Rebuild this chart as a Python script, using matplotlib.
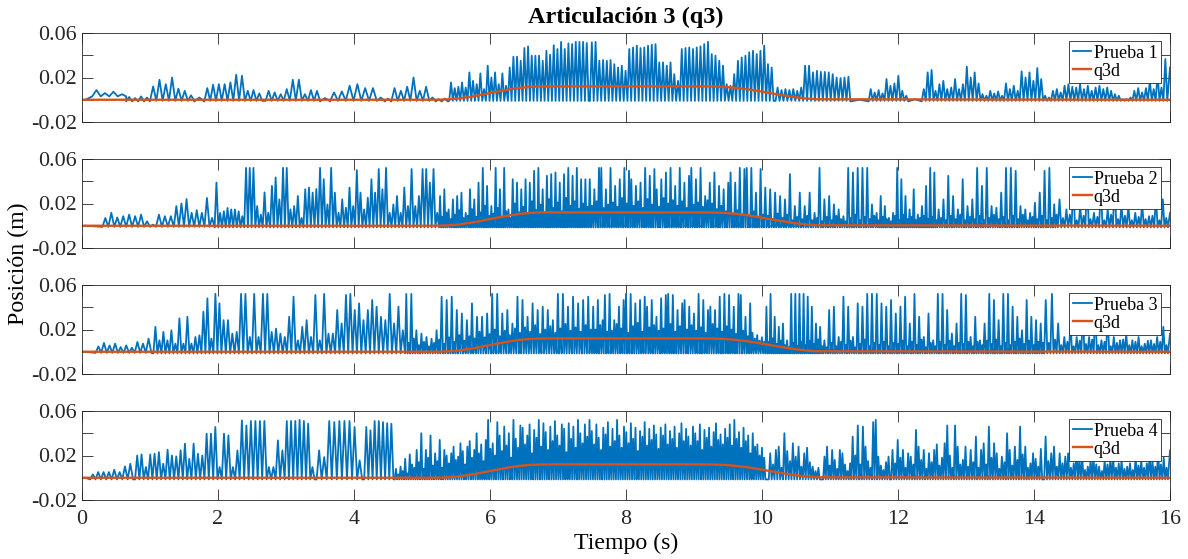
import numpy as np
import matplotlib
matplotlib.use("Agg")
import matplotlib.pyplot as plt

# ---------------------------------------------------------------------------
# Data (positions in mm, time in s).  Each segment: (t_start, t_end, base, peaks)
# The trace alternates base -> peak -> base ... evenly across the segment.
# ---------------------------------------------------------------------------
T_MAX = 16.0

P1_SEGMENTS = [
    (0.15, 0.65, 3.0, [8.7, 6.0, 7.2, 5.0]),
    (0.65, 1.00, -1.5, [2.5, 1.5, 3.0, 2.0]),
    (1.00, 1.65, -1.0, [12, 18, 14, 20, 10, 8, 4]),
    (1.65, 1.80, -1.5, [2]),
    (1.80, 2.65, -1.0, [10.5, 13.5, 14, 14, 15.6, 22.5, 21.6, 8, 8.7, 5.7]),
    (2.70, 3.50, -1.0, [8, 6.6, 5, 9.6, 18, 18, 5, 8.7, 8]),
    (3.50, 3.65, -1.5, [1.5]),
    (3.65, 4.45, -1.0, [6.6, 7.5, 12.6, 14, 10.5, 10.5, 2]),
    (4.45, 4.55, -1.5, [1.0]),
    (4.55, 5.20, -1.0, [10.5, 8, 11.7, 20, 8, 11.7, 2]),
    (5.20, 5.38, -1.5, [0.5, 1.0]),
    (5.40, 7.45, -1.0, [15.6, 10.5, 11.7, 15.6, 11, 24.6, 17, 14, 23.7, 9.6, 30.6, 20,
                        24.6, 14, 23.7, 12.6, 29, 38.7, 38.7, 35, 46.5, 48, 39.6, 39.6,
                        39.6, 35, 44, 40.5, 49, 45.6, 52, 45.6, 50.7, 50, 52, 52, 52, 51]),
    (7.47, 10.17, -1.0, [51.6, 52, 35, 35.7, 35, 35.7, 32, 29, 30.6, 26, 45.6, 47, 48.6,
                         46.5, 47, 48.6, 49.5, 50, 33.6, 33.6, 30.6, 33.6, 23, 17, 45.6,
                         46.5, 47, 45.6, 47, 48, 50, 52, 41, 39.6, 35, 30.6, 14, 12.6, 23,
                         35, 38, 39.6, 42.6, 44, 41, 44, 48.6, 32, 29]),
    (10.20, 11.30, -1.0, [11, 8.7, 9.6, 8.7, 9.6, 8, 11, 30.6, 30.6, 24.6, 26, 25, 25,
                          24.6, 23, 20, 19.5, 20, 20.7]),
    (11.30, 11.57, -1.5, [0.0]),
    (11.57, 12.15, -1.0, [9.6, 6.6, 8.7, 5.7, 18.6, 12.6, 14.7, 21.6, 8, 3.6]),
    (12.15, 12.35, -1.5, [0.5]),
    (12.35, 14.25, -1.0, [9.6, 24.6, 26.7, 8, 14, 17, 9.6, 11, 18.6, 9.6, 14, 29.7, 20,
                          24.6, 14.7, 5, 3.6, 8, 5.7, 7.5, 3.6, 14.7, 9.6, 12.6, 8, 25.5,
                          20, 24.6, 17, 28.5, 18.6, 3.6, 2]),
    (14.25, 15.96, -1.0, [8, 9.6, 6.6, 12.6, 14, 11.7, 11, 14, 9.6, 12.6, 8, 11, 12.6,
                          9.6, 11, 8, 5, 3.6, 0.6, 0.6, 2, 8, 10.5, 6.6, 10.5, 17, 9.6,
                          23, 11, 36.6]),
]
P1_END = 29.0

P2_SEGMENTS = [
    (0.30, 1.35, -1.0, [7, 11.6, 7.5, 8.6, 10, 8.6, 10, 4, 1, 10, 8.6, 8.6]),
    (1.35, 1.95, -1.0, [17.7, 20, 24, 11.6, 14, 11.6, 25, 7]),
    (1.95, 3.80, -1.5, [38.8, 11.6, 13, 16, 14.7, 14.7, 13, 8.6, 52, 52, 52, 17.7, 10, 30,
                        11.6, 35.8, 43.4, 23.7, 52, 52, 14.7, 17.7, 26.7, 7, 32.8, 34.3,
                        29.8, 33, 52, 41.8, 19.2, 52, 29.8, 11.6]),
    (3.80, 5.25, -1.5, [23.7, 16.2, 34.3, 17.7, 50, 29.8, 14.7, 25.2, 41.8, 29.8, 51, 32.8,
                        52, 11.6, 19.2, 26.7, 11.6, 34.3, 17.7, 51, 17.7, 26.7, 51, 51,
                        38.8, 51, 11.6]),
    (5.25, 7.45, -1.5, [26.7, 8, 32.8, 12, 14.7, 6, 23.7, 10, 26.7, 14, 29.8, 7, 11.6, 9,
                        32.8, 15, 23.7, 8, 38.8, 12, 52, 18, 35.8, 9, 17.7, 11, 52, 16,
                        32.8, 8, 52, 13, 14.7, 7, 41.8, 20, 38.8, 12, 32.8, 17, 41.8, 10,
                        38.8, 22, 49.4, 14, 52, 19, 32.8, 12, 44.9, 24, 46.4, 16, 47.9,
                        21, 38.8, 13, 46.4, 25, 52, 18, 44.9, 22, 52, 15, 41.8, 20, 41.8,
                        17]),
    (7.45, 10.03, -1.5, [41.8, 18, 32.8, 22, 52, 52, 16, 32.8, 19, 52, 21, 35.8, 17,
                         41.8, 25, 52, 20, 49.4, 41.8, 18, 35.8, 22, 38.8, 16, 52, 24,
                         44.9, 19, 51, 32.8, 17, 41.8, 25, 47.9, 20, 52, 23, 35.8, 18,
                         52, 22, 38.8, 16, 44.9, 52, 19, 41.8, 21, 52, 17, 26.7, 23,
                         38.8, 20, 47.9, 15, 35.8, 18, 32.8, 13, 38.8, 47.9, 11, 38.8,
                         14, 52, 10, 51, 52, 9, 52, 13, 29.8, 8, 51, 10]),
    (10.03, 10.90, -1.5, [34.3, 9, 32.8, 6, 29.8, 11, 26.7, 7, 23.7, 10, 46.4, 5, 17.7, 8,
                          29.8, 6, 17.7, 9, 29.8, 5, 11.6, 7, 52, 4]),
    (10.90, 11.67, -1.5, [23.7, 8, 26.7, 5, 19.2, 9, 14.7, 6, 8.6, 4, 52, 7, 47.9, 10, 52,
                          5, 52, 8, 52, 6, 19.2, 9]),
    (11.67, 12.58, -1.5, [11.6, 5, 26.7, 8, 17.7, 6, 7.1, 4, 11.6, 9, 52, 5, 41.8, 10,
                          26.7, 6, 14.7, 8, 32.8, 5, 10.1, 7, 17.7, 9, 35.8, 6, 52, 8,
                          47.9, 5]),
    (12.58, 13.50, -1.5, [14.7, 7, 23.7, 5, 44.9, 9, 26.7, 6, 14.7, 10, 41.8, 5, 17.7, 8,
                          23.7, 6, 52, 9, 35.8, 5, 52, 7, 17.7, 10, 16.2, 6]),
    (13.50, 14.35, -1.5, [29.8, 8, 52, 5, 52, 9, 49.4, 6, 17.7, 10, 14.7, 5, 11.6, 8,
                          20.7, 6, 29.8, 9, 49.4, 5, 52, 7, 19.2, 10]),
    (14.35, 15.97, -1.5, [23.7, 7, 14.7, 10, 40, 5, 17.7, 9, 45, 6, 11.6, 8, 38, 5, 14.7,
                          10, 42, 6, 19.2, 9, 17.7, 5, 11.6, 8, 20.7, 6, 8.6, 9, 26.7, 5,
                          23.7, 7]),
]
P2_END = 11.6

P3_SEGMENTS = [
    (0.20, 1.02, -1.0, [4.8, 7.9, 5.7, 7.3, 4.2, 5.7, 3.6, 8.8, 7.3, 11.8]),
    (1.05, 2.05, -1.5, [22.4, 10.3, 17.8, 10.3, 19.3, 7.3, 30, 7.3, 31.4, 7.3, 13.3, 14.8,
                        36, 48, 11.8, 52, 43.5]),
    (2.05, 4.75, -1.5, [28.4, 28.4, 16.3, 17.8, 52, 52, 13.3, 52, 13.3, 52, 52, 17.8, 20.8,
                        16.3, 13.3, 31.4, 49.5, 10.3, 22.4, 28.4, 13.3, 51, 10.3, 52,
                        16.3, 16.3, 37.5, 25.4, 51, 52, 37.5, 43.5, 28.4, 37.5, 46.5,
                        40.5, 31.4, 28.4, 52, 25.4, 40.5, 19.3]),
    (4.75, 7.50, -1.5, [52, 8, 52, 12, 19.3, 6, 16.3, 9, 13.3, 5, 11.8, 8, 19.3, 11, 49.5,
                        7, 46.5, 13, 49.5, 9, 37.5, 15, 34.4, 10, 28.4, 14, 43.5, 12,
                        31.4, 18, 31.4, 13, 34.4, 16, 52, 20, 52, 14, 34.4, 19, 37.5, 15,
                        25.4, 21, 49.5, 17, 46.5, 22, 31.4, 18, 43.5, 24, 37.5, 16, 40.5,
                        20, 37.5, 23, 28.4, 17, 52, 21, 52, 25, 40.5, 19, 49.5, 22, 43.5,
                        18, 46.5, 24, 49.5, 20]),
    (7.50, 10.05, -1.5, [40.5, 20, 46.5, 24, 28.4, 51, 18, 52, 19, 28.4, 25, 40.5, 21,
                         46.5, 52, 17, 52, 23, 43.5, 26, 46.5, 18, 49.5, 40.5, 22, 46.5,
                         24, 31.4, 19, 48, 21, 51, 52, 25, 51, 18, 37.5, 23, 43.5, 46.5,
                         20, 40.5, 24, 34.4, 19, 52, 22, 46.5, 17, 37.5, 40.5, 25, 37.5,
                         21, 49.5, 18, 52, 23, 51, 20, 40.5, 16, 52, 51, 19, 31.4, 14,
                         43.5, 17, 12, 15, 10, 13, 9]),
    (10.05, 10.90, -1.5, [40.5, 9, 52, 12, 31.4, 7, 22.4, 10, 25.4, 6, 10.3, 4, 52, 8, 52,
                          5, 52, 9, 52, 6, 49.5, 10, 40.5, 7, 25.4, 11, 22.4, 5]),
    (10.90, 11.95, -1.5, [10.3, 4, 37.5, 8, 40.5, 5, 13.3, 9, 49.5, 6, 40.5, 10, 13.3, 4,
                          43.5, 7, 40.5, 11, 52, 5, 52, 8, 52, 6, 43.5, 9, 40.5, 5, 46.5,
                          8]),
    (11.95, 13.05, -1.5, [34.4, 7, 40.5, 10, 49.5, 5, 25.4, 9, 52, 6, 31.4, 11, 13.3, 4,
                          34.4, 8, 10.3, 5, 52, 9, 52, 6, 37.5, 10, 16.3, 5, 25.4, 8, 52,
                          7, 51, 9]),
    (13.05, 14.15, -1.5, [13.3, 5, 31.4, 9, 10.3, 6, 25.4, 10, 52, 7, 46.5, 11, 28.4, 5,
                          52, 8, 52, 6, 40.5, 9, 31.4, 12, 19.3, 7, 46.5, 10, 31.4, 6,
                          28.4, 9, 25.4, 8]),
    (14.15, 15.97, -1.5, [46.5, 8, 52, 11, 25.4, 6, 13.3, 9, 28.4, 5, 13.3, 10, 40, 7,
                          13.3, 11, 45, 6, 10.3, 9, 38, 5, 13.3, 8, 10.3, 11, 16.3, 6,
                          10.3, 9, 13.3, 5, 7.3, 10, 10.3, 7, 13.3, 9, 22.4, 6]),
]
P3_END = 16.3

P4_SEGMENTS = [
    (0.12, 0.75, -1.5, [3, 5.1, 5.1, 5.1, 7.2, 5.1, 10.2, 12.6]),
    (0.78, 2.12, -1.5, [20, 21, 9.6, 21, 21.6, 23, 12.6, 25.2, 20, 19.2, 24.6, 30.6, 17,
                        30.6, 21.6, 20, 39.6, 39.6, 45.6, 9.6, 39.6]),
    (2.12, 2.98, -1.5, [38, 9.6, 24.6, 51.6, 47, 51, 51, 51, 51, 9.6, 9.6, 33.6, 24.6]),
    (2.98, 3.42, -1.5, [51, 51, 51, 52, 51, 48.6, 9.6]),
    (3.45, 4.12, -1.5, [24.6, 18.6, 51, 50, 51, 51, 51, 45.6, 15.6]),
    (4.15, 4.58, -1.5, [45.6, 42.6, 51, 51, 50, 49, 48.6]),
    (4.60, 7.48, -1.5, [8, 3, 10, 6, 17, 4, 21, 12, 9, 25, 14, 40, 8, 25, 18, 38, 11, 22,
                        15, 34, 9, 25, 20, 13, 22,
                        28, 16, 19, 31, 24, 12, 28, 33, 18, 25, 40, 22, 30, 15, 34, 52,
                        26, 31, 20, 50, 38, 24, 46, 29, 40, 18, 52, 35, 27, 47,
                        45, 30, 38, 48, 22, 43, 36, 52, 28, 49, 41, 25, 46, 33, 51, 38,
                        29, 48, 44, 23, 49, 35, 46, 27, 52, 40, 31, 48, 37, 52]),
    (7.48, 10.05, -1.5, [42, 30, 48, 36, 25, 45, 39, 50, 28, 44, 33, 52, 38, 27, 46, 41,
                         31, 49, 35, 45, 24, 42, 37, 50, 29, 44, 34, 47, 39, 26,
                         45, 38, 48, 30, 42, 35, 46, 27, 40, 49, 33, 44, 37, 29, 46, 40,
                         33, 48, 25, 43, 36, 45, 28, 41, 49, 34, 39, 30, 44, 36,
                         48, 29, 52, 35, 41, 27, 45, 33, 38, 22, 40, 28, 30, 20, 27, 18]),
    (10.10, 10.85, -1.5, [22, 12, 25, 28, 9, 40, 24, 15, 31, 19, 28, 10, 22, 27, 14, 10,
                          6, 9]),
    (10.90, 11.88, -1.5, [19, 28, 11, 25, 16, 8, 25, 22, 12, 6, 13, 37, 20, 47, 12, 46,
                          28, 15, 9, 50, 52, 19, 11, 7, 14, 19]),
    (11.90, 13.05, -1.5, [25, 13, 34, 18, 25, 9, 22, 19, 12, 43, 28, 16, 25, 8, 22, 14,
                          25, 30, 11, 18, 31, 47, 20, 9, 47, 28, 12, 16, 28, 10]),
    (13.05, 14.12, -1.5, [25, 14, 37, 9, 25, 31, 12, 46, 18, 31, 22, 8, 19, 14, 40, 25,
                          11, 28, 16, 46, 21, 28, 9, 13, 22, 17, 10, 26]),
    (14.15, 15.97, -1.5, [37, 15, 22, 28, 10, 22, 13, 19, 22, 9, 13, 25, 16, 19, 7, 10,
                          16, 19, 12, 10, 6, 16, 12, 16, 19, 9, 13, 16, 8, 10, 13, 7,
                          19, 11, 16, 9, 13, 22, 15, 10, 25, 12, 18, 9]),
]
P4_END = 24.6

# Reference trajectory q3d (mm)
Q3D_T = [0.0, 5.10, 5.25, 5.40, 5.55, 5.70, 5.85, 6.00, 6.15, 6.30, 6.45, 6.60, 6.75,
         6.90, 9.10, 9.27, 9.44, 9.61, 9.78, 9.95, 10.12, 10.29, 10.46, 10.63, 10.80,
         16.0]
Q3D_V = [0.0, 0.0, 0.06, 0.42, 1.25, 2.52, 4.2, 6.0, 7.8, 9.48, 10.75, 11.58, 11.94,
         12.0, 12.0, 11.94, 11.58, 10.75, 9.48, 7.8, 6.0, 4.2, 2.52, 1.25, 0.42, 0.0]

TRIAL_LABELS = ["Prueba 1", "Prueba 2", "Prueba 3", "Prueba 4"]
REF_LABEL = "q3d"
Y_TICKS = [-0.02, 0.0, 0.02, 0.04, 0.06]
Y_TICK_LABELS = ["-0.02", "", "0.02", "", "0.06"]
X_TICKS = [0, 2, 4, 6, 8, 10, 12, 14, 16]


def build_trace(segments, end_value):
    t = [0.05]
    y = [0.0]
    for t0, t1, base, peaks in segments:
        vals = []
        for p in peaks:
            vals += [base, p]
        vals.append(base)
        t.extend(np.linspace(t0, t1, len(vals)))
        y.extend(vals)
    t.append(T_MAX)
    y.append(end_value)
    return np.asarray(t), np.asarray(y) / 1000.0


plt.rcParams["font.family"] = ["Liberation Serif", "DejaVu Serif"]

BLUE = "#0072BD"
ORANGE = "#D95319"
AX_COLOR = "#262626"

W, H = 1188, 559
fig = plt.figure(figsize=(W / 100, H / 100), dpi=100)

left_px, right_px = 82, 1170
tops_px = [33, 159, 285, 411]
height_px = 89
width_px = right_px - left_px

traces = [build_trace(P1_SEGMENTS, P1_END), build_trace(P2_SEGMENTS, P2_END),
          build_trace(P3_SEGMENTS, P3_END), build_trace(P4_SEGMENTS, P4_END)]

q_t = np.asarray(Q3D_T)
q_v = np.asarray(Q3D_V) / 1000.0

for i, (top, (tt, yy)) in enumerate(zip(tops_px, traces)):
    ax = fig.add_axes([left_px / W, 1 - (top + height_px) / H,
                       width_px / W, height_px / H])
    ax.plot(tt, yy, color=BLUE, lw=1.3, label=TRIAL_LABELS[i])
    ax.plot(q_t, q_v, color=ORANGE, lw=1.7, label=REF_LABEL)
    ax.set_xlim(0, T_MAX)
    ax.set_ylim(-0.02, 0.06)
    ax.set_yticks(Y_TICKS)
    ax.set_yticklabels(Y_TICK_LABELS)
    ax.set_xticks(X_TICKS)
    if i < 3:
        ax.set_xticklabels([])
    ax.tick_params(direction="in", top=True, right=True, length=8, width=0.6,
                   colors=AX_COLOR, labelsize=15.8)
    ax.tick_params(axis="y", pad=3.6)
    ax.tick_params(axis="x", pad=7.5)
    for s in ax.spines.values():
        s.set_color(AX_COLOR)
        s.set_linewidth(0.6)
    leg = ax.legend(loc="upper right",
                    bbox_to_anchor=(1 - 9 / width_px, 1 - 8 / height_px),
                    borderaxespad=0, fontsize=13, frameon=True, fancybox=False,
                    handlelength=1.05, handletextpad=0.12, labelspacing=0.05,
                    borderpad=0.2)
    leg.get_frame().set_edgecolor(AX_COLOR)
    leg.get_frame().set_linewidth(0.6)
    leg.get_frame().set_alpha(1.0)

cx = (left_px + right_px) / 2 / W
fig.text(cx, 1 - 17 / H, "Articulación 3 (q3)",
         ha="center", va="center", fontsize=17.5, fontweight="bold")
fig.text(cx, 1 - 543 / H, "Tiempo (s)", ha="center", va="center", fontsize=17.2)
fig.text(18 / W, 1 - 264 / H, "Posición (m)", ha="center", va="center",
         rotation=90, fontsize=17.2)

fig.savefig("out.png", dpi=100)
